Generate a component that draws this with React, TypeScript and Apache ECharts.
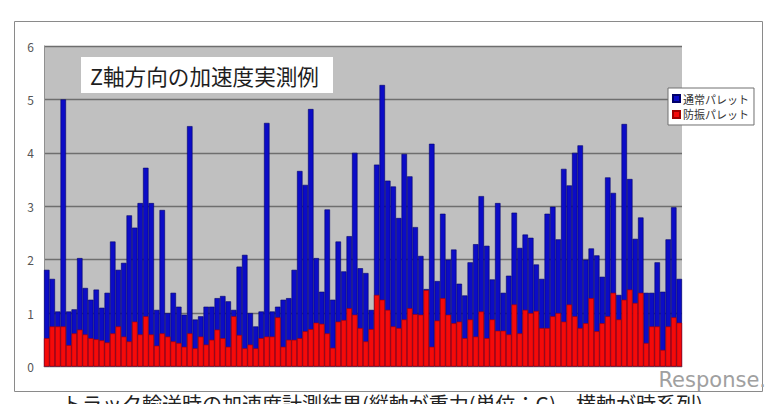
import React, { useEffect, useRef } from "react";
import * as echarts from "echarts";

// Blue: 通常パレット (regular pallet), Red: 防振パレット (anti-vibration pallet)
const normalPallet = [
  1.81, 1.64, 1.03, 5.0, 1.03, 1.07, 2.03, 1.47, 1.25, 1.44,
  1.1, 1.38, 2.34, 1.81, 1.94, 2.83, 2.6, 3.06, 3.72, 3.06,
  1.06, 2.93, 1.0, 1.38, 1.12, 0.97, 4.5, 0.88, 0.94, 1.12,
  1.12, 1.28, 1.32, 1.22, 1.06, 1.87, 2.09, 1.0, 0.75, 1.03,
  4.56, 1.03, 1.12, 1.25, 1.28, 1.81, 3.66, 3.4, 4.82, 2.03,
  1.4, 2.94, 1.25, 2.34, 1.78, 2.44, 4.0, 1.84, 1.75, 1.06,
  3.78, 5.27, 3.48, 3.37, 2.78, 3.98, 3.56, 2.61, 2.07, 1.45,
  4.17, 1.6, 2.86, 2.0, 2.19, 1.55, 1.33, 1.95, 2.29, 3.19,
  2.26, 1.63, 3.06, 1.38, 1.7, 2.88, 2.22, 2.47, 2.41, 1.91,
  1.64, 2.86, 2.99, 2.38, 3.7, 3.39, 4.0, 4.14, 2.0, 2.21,
  2.08, 1.68, 3.54, 3.25, 1.34, 4.54, 3.51, 2.39, 2.79, 1.38,
  1.38, 1.95, 1.4, 2.38, 2.98, 1.64,
];

const dampedPallet = [
  0.53, 0.75, 0.75, 0.75, 0.4, 0.62, 0.69, 0.6, 0.53, 0.51,
  0.49, 0.45, 0.62, 0.75, 0.56, 0.47, 0.84, 0.6, 0.94, 0.6,
  0.39, 0.62, 0.56, 0.47, 0.44, 0.37, 0.62, 0.34, 0.56, 0.41,
  0.5, 0.69, 0.53, 0.37, 0.94, 0.59, 0.34, 0.41, 0.34, 0.53,
  0.56, 0.56, 0.92, 0.37, 0.5, 0.5, 0.53, 0.66, 0.7, 0.82,
  0.8, 0.62, 0.35, 0.84, 0.87, 1.09, 0.97, 0.72, 0.47, 0.7,
  1.34, 1.25, 1.06, 0.75, 0.72, 0.88, 1.09, 0.98, 0.97, 1.43,
  0.37, 0.86, 1.28, 0.97, 0.81, 0.84, 0.53, 0.88, 0.56, 1.03,
  0.53, 0.88, 0.67, 0.67, 0.6, 1.16, 0.62, 1.06, 1.0, 1.04,
  0.72, 0.72, 0.94, 1.0, 0.84, 1.16, 0.94, 0.72, 0.81, 1.28,
  0.66, 0.81, 0.94, 1.38, 0.88, 1.25, 1.44, 1.19, 1.38, 0.44,
  0.75, 0.75, 0.31, 0.75, 0.92, 0.82,
];

const samples = normalPallet.map((_, i) => String(i + 1));
const yTicks = ["0", "1", "2", "3", "4", "5", "6"];

const seriesNames = ["通常パレット", "防振パレット"];
const chartTitle = "Z軸方向の加速度実測例";
const caption = "トラック輸送時の加速度計測結果(縦軸が重力(単位：G)、横軸が時系列)";

const FONT = "'Noto Sans CJK JP', 'Noto Sans', sans-serif";

export default function App() {
  const ref = useRef<HTMLDivElement>(null);

  useEffect(() => {
    if (!ref.current) return;
    const chart = echarts.init(ref.current, null, { renderer: "svg" });
    chart.setOption({
      animation: false,
      backgroundColor: "#ffffff",
      textStyle: { fontFamily: FONT },
      grid: {
        left: 44,
        right: 98,
        top: 46,
        bottom: 37.5,
        show: true,
        backgroundColor: "#c0c0c0",
        borderWidth: 0,
      },
      legend: {
        orient: "vertical",
        left: 668,
        top: 88,
        icon: "rect",
        itemWidth: 7,
        itemHeight: 7,
        itemGap: 5,
        padding: [5, 5, 5, 4],
        backgroundColor: "#ffffff",
        borderColor: "#707070",
        borderWidth: 1,
        borderRadius: 0,
        textStyle: { fontSize: 11, color: "#333", fontFamily: FONT, padding: [0, 0, 0, -2] },
        data: seriesNames,
      },
      xAxis: {
        type: "category",
        data: samples,
        axisLabel: { show: false },
        axisTick: { show: false },
        axisLine: { show: true, lineStyle: { color: "#909090" } },
        splitLine: { show: false },
      },
      yAxis: {
        type: "value",
        min: 0,
        max: 6,
        interval: 1,
        axisLabel: {
          color: "#555",
          fontSize: 12,
          margin: 10,
          fontFamily: FONT,
          formatter: (v: number) => yTicks[Math.round(v)] ?? String(v),
        },
        axisTick: { show: false },
        axisLine: { show: true, lineStyle: { color: "#909090" } },
        splitLine: { show: true, lineStyle: { color: "#6e6e6e", width: 1.3 } },
      },
      series: [
        {
          name: seriesNames[0],
          type: "bar",
          data: normalPallet,
          barGap: "-100%",
          barCategoryGap: "0%",
          itemStyle: { color: "#0c0cc6", borderColor: "#00006a", borderWidth: 0.6 },
        },
        {
          name: seriesNames[1],
          type: "bar",
          data: dampedPallet,
          barGap: "-100%",
          barCategoryGap: "0%",
          itemStyle: { color: "#f50a0a", borderColor: "#a00000", borderWidth: 0.6 },
        },
      ],
      graphic: [
        {
          type: "rect",
          z: -10,
          shape: { x: 14.5, y: 21.5, width: 748, height: 370 },
          style: { fill: "#ffffff", stroke: "#8a8a8a", lineWidth: 1 },
        },
        {
          type: "rect",
          z: 50,
          shape: { x: 81, y: 57, width: 252, height: 36 },
          style: { fill: "#ffffff" },
        },
        {
          type: "text",
          z: 51,
          x: 90,
          y: 75,
          style: {
            text: chartTitle,
            fontSize: 21.6,
            fontFamily: FONT,
            fill: "#1e1e1e",
            verticalAlign: "middle",
            align: "left",
          },
        },
        {
          type: "text",
          z: 51,
          x: 766,
          y: 380,
          style: {
            text: "Response.",
            fontSize: 21,
            fontFamily: "'DejaVu Sans', sans-serif",
            fill: "#a0a0a0",
            verticalAlign: "middle",
            align: "right",
          },
        },
        {
          type: "text",
          z: 51,
          x: 62,
          y: 393,
          style: {
            text: caption,
            fontSize: 20,
            fontFamily: FONT,
            fill: "#222",
            verticalAlign: "top",
            align: "left",
          },
        },
      ],
    });
    return () => chart.dispose();
  }, []);

  return (
    <div
      ref={ref}
      style={{ position: "fixed", left: 0, top: 0, width: 780, height: 404 }}
    />
  );
}
